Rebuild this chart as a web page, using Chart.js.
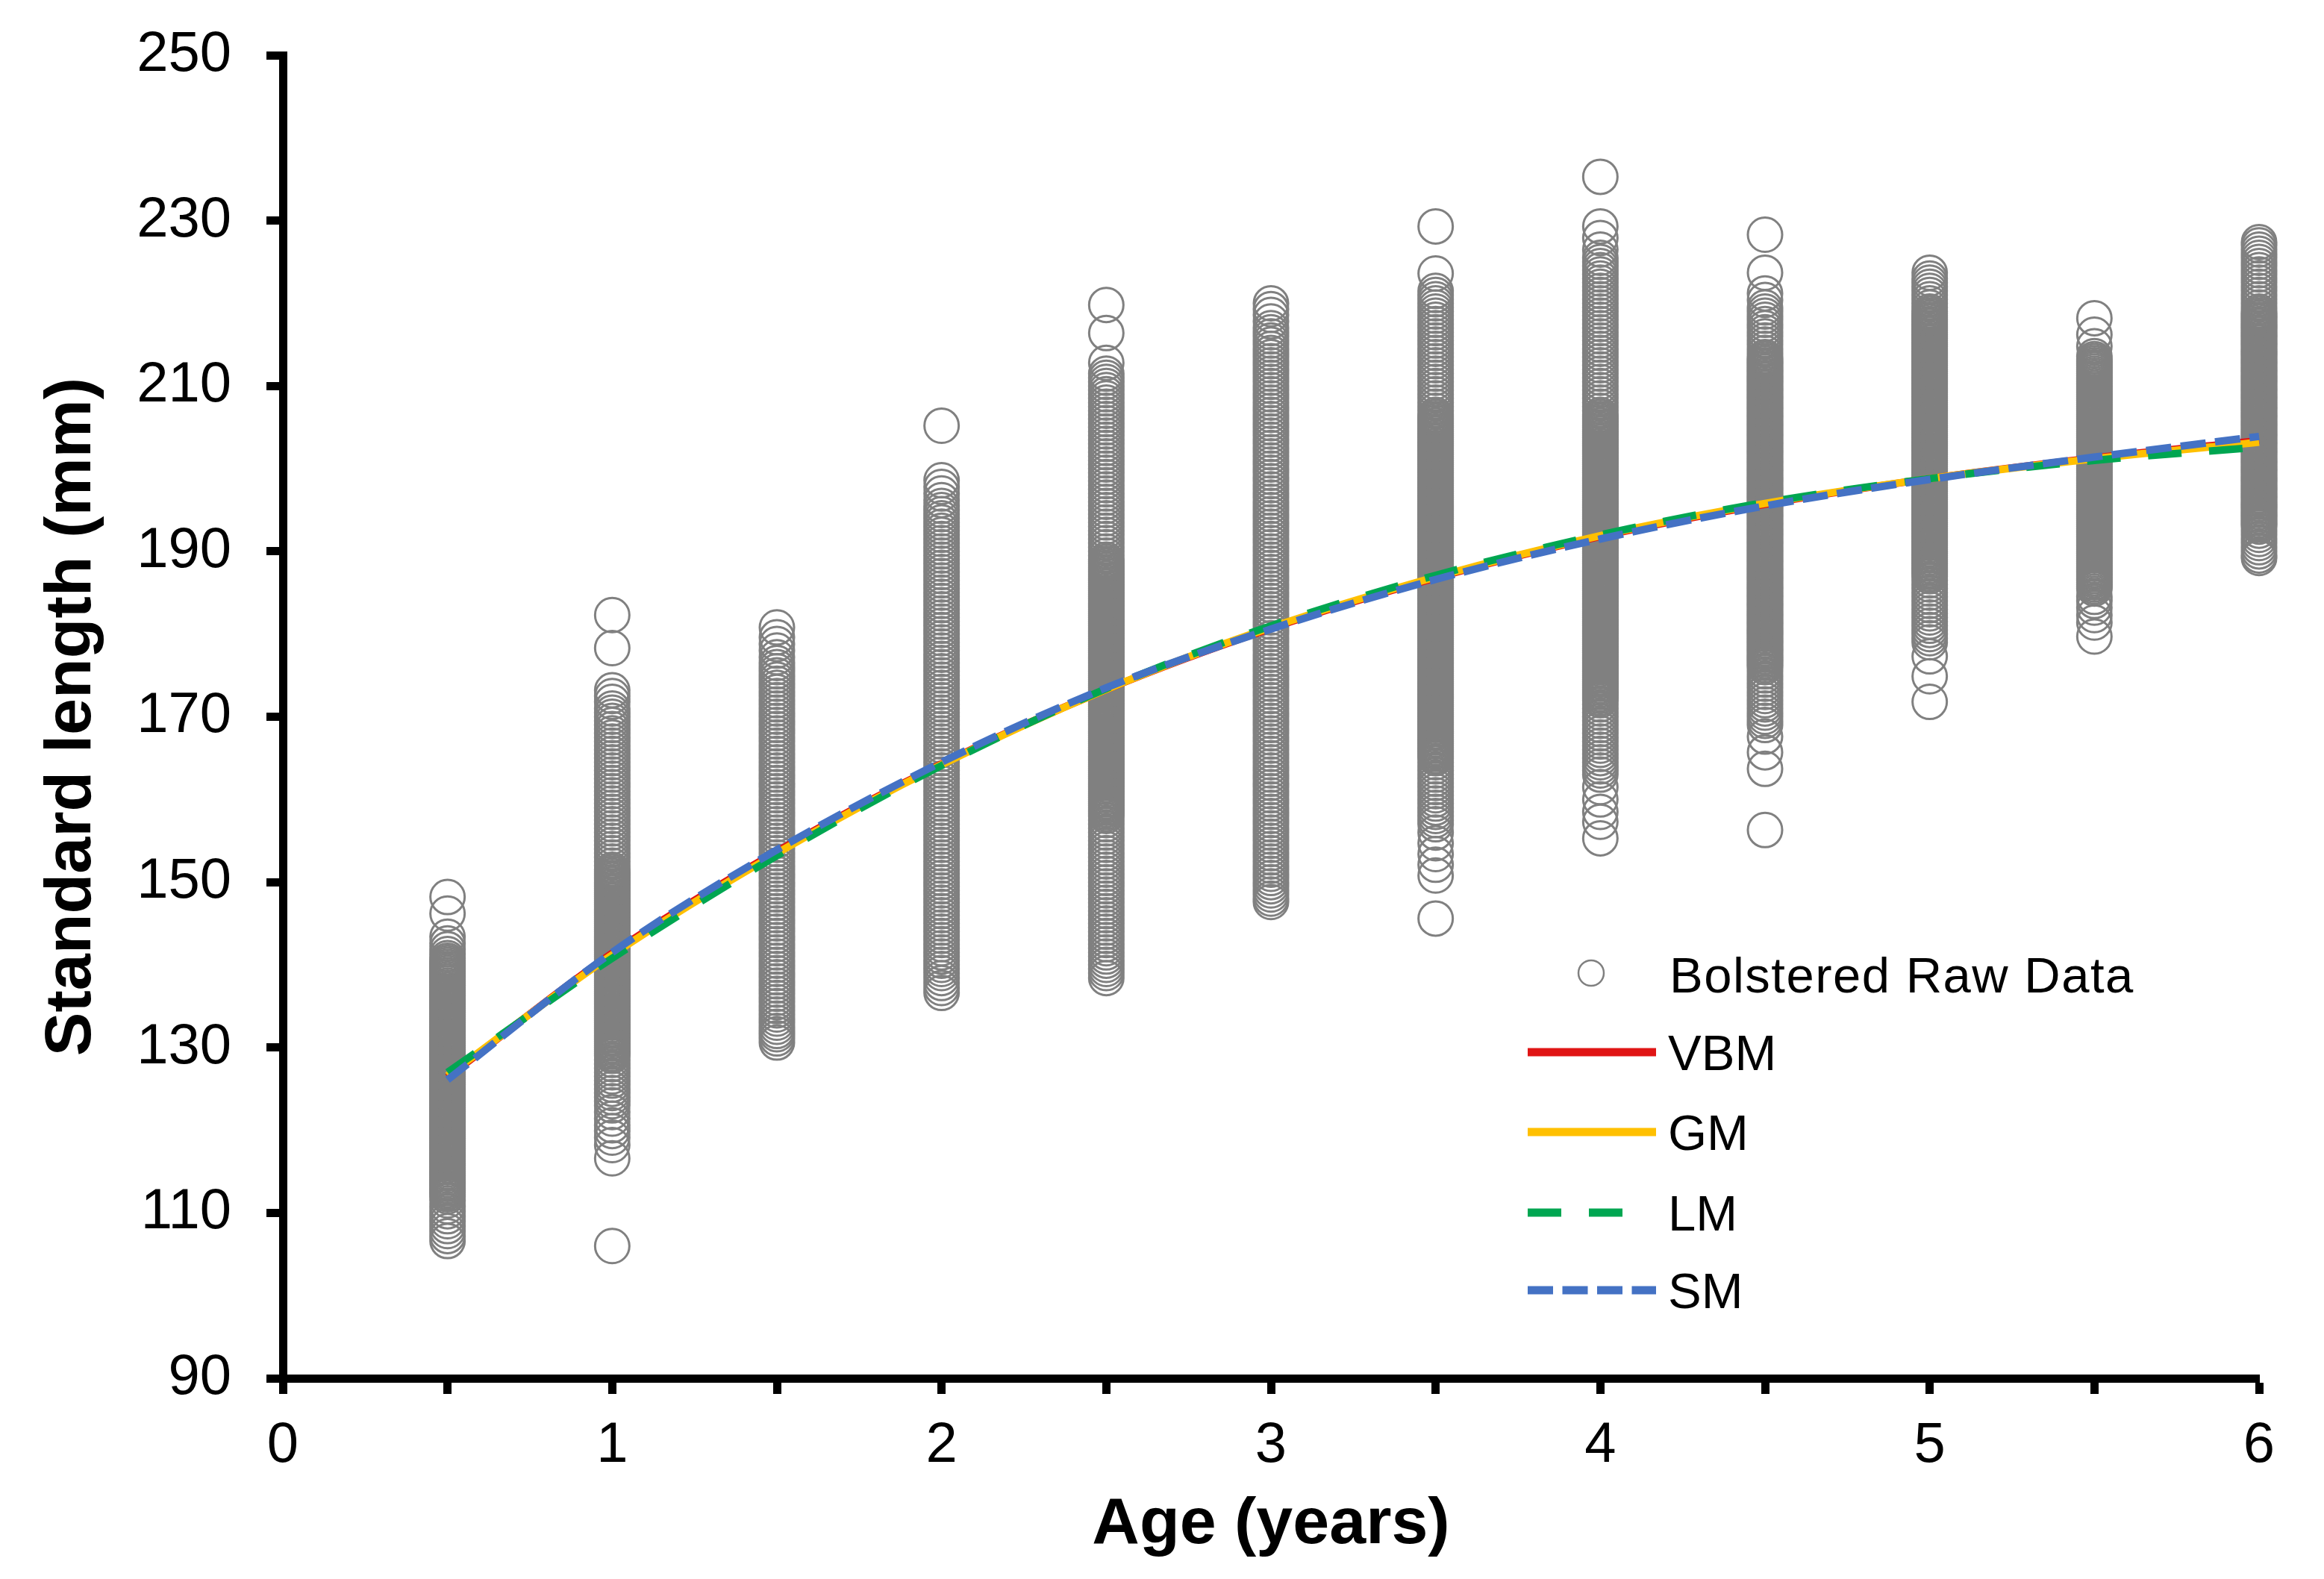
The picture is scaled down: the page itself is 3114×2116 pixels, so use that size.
<!DOCTYPE html>
<html>
<head>
<meta charset="utf-8">
<script src="https://cdn.jsdelivr.net/npm/chart.js@4.4.1/dist/chart.umd.min.js"></script>
<style>
html,body{margin:0;padding:0;background:#fff;}
canvas{display:block;}
</style>
</head>
<body>
<canvas id="c" width="3114" height="2116" style="width:3114px;height:2116px"></canvas>
<script>
// ---------- DATA ----------
const ages = [0.5, 1, 1.5, 2, 2.5, 3, 3.5, 4, 4.5, 5, 5.5, 6];

const sl05 = [148.2,146.2,143.4,142.6,141.9,141.3,140.8,140.5,140.25,140,139.75,139.5,139.25,139,138.75,138.5,138.25,138,137.75,137.5,137.25,137,136.75,136.5,136.25,136,135.75,135.5,135.25,135,134.75,134.5,134.25,134,133.75,133.5,133.25,133,132.75,132.5,132.25,132,131.75,131.5,131.25,131,130.75,130.5,130.25,130,129.75,129.5,129.25,129,128.75,128.5,128.25,128,127.75,127.5,127.25,127,126.75,126.5,126.25,126,125.75,125.5,125.25,125,124.75,124.5,124.25,124,123.75,123.5,123.25,123,122.75,122.5,122.25,122,121.75,121.5,121.25,121,120.75,120.5,120.25,120,119.75,119.5,119.25,119,118.75,118.5,118.25,118,117.75,117.5,117.25,117,116.75,116.5,116.25,116,115.75,115.5,115.25,115,114.75,114.5,114.25,114,113.75,113.5,113.25,113,112.75,112.5,112.25,112,111.5,110.8,110.2,109.6,109,108.4,107.8,107.2,106.6];
const sl10 = [182.3,178.3,173.2,172.5,171.8,171,170.5,170,169.5,169,168.5,168,167.5,167,166.5,166,165.5,165,164.5,164,163.5,163,162.5,162,161.5,161,160.5,160,159.5,159,158.5,158,157.5,157,156.5,156,155.5,155,154.5,154,153.5,153,152.5,152,151.5,151.25,151,150.75,150.5,150.25,150,149.75,149.5,149.25,149,148.75,148.5,148.25,148,147.75,147.5,147.25,147,146.75,146.5,146.25,146,145.75,145.5,145.25,145,144.75,144.5,144.25,144,143.75,143.5,143.25,143,142.75,142.5,142.25,142,141.75,141.5,141.25,141,140.75,140.5,140.25,140,139.75,139.5,139.25,139,138.75,138.5,138.25,138,137.75,137.5,137.25,137,136.75,136.5,136.25,136,135.75,135.5,135.25,135,134.75,134.5,134.25,134,133.75,133.5,133.25,133,132.75,132.5,132.25,132,131.75,131.5,131.25,131,130.75,130.5,130.25,130,129.75,129.5,129.25,129,128.5,128,127.5,127,126.5,126,125.5,125,124.5,124,123.5,123,122.2,121.4,120.6,119.9,119.1,118.2,116.6,106];
const sl15 = [180.8,179.6,178.8,178,177.2,176.5,176,175.5,175,174.5,174,173.5,173,172.5,172,171.5,171,170.5,170,169.5,169,168.5,168,167.5,167,166.5,166,165.5,165,164.5,164,163.5,163,162.5,162,161.5,161,160.5,160,159.5,159,158.5,158,157.5,157,156.5,156,155.5,155,154.5,154,153.5,153,152.5,152,151.5,151,150.5,150,149.5,149,148.5,148,147.5,147,146.5,146,145.5,145,144.5,144,143.5,143,142.5,142,141.5,141,140.5,140,139.5,139,138.5,138,137.5,137,136.5,136,135.5,135,134.5,134,133.5,133,132.5,132,131.6,131.1,130.6];
const sl20 = [205.2,198.6,197.8,197,196.2,195.5,195,194.5,194,193.5,193,192.5,192,191.5,191,190.5,190,189.5,189,188.5,188,187.5,187,186.5,186,185.5,185,184.5,184,183.5,183,182.5,182,181.5,181,180.5,180,179.5,179,178.5,178,177.5,177,176.5,176,175.5,175,174.5,174,173.5,173,172.5,172,171.5,171,170.5,170,169.5,169,168.5,168,167.5,167,166.5,166,165.5,165,164.5,164,163.5,163,162.5,162,161.5,161,160.5,160,159.5,159,158.5,158,157.5,157,156.5,156,155.5,155,154.5,154,153.5,153,152.5,152,151.5,151,150.5,150,149.5,149,148.5,148,147.5,147,146.5,146,145.5,145,144.5,144,143.5,143,142.5,142,141.5,141,140.5,140,139.5,139,138.4,137.8,137.2,136.6];
const sl25 = [219.8,216.4,212.8,211.5,211,210.5,210,209.5,209,208.5,208,207.5,207,206.5,206,205.5,205,204.5,204,203.5,203,202.5,202,201.5,201,200.5,200,199.5,199,198.5,198,197.5,197,196.5,196,195.5,195,194.5,194,193.5,193,192.5,192,191.5,191,190.5,190,189.5,189,188.75,188.5,188.25,188,187.75,187.5,187.25,187,186.75,186.5,186.25,186,185.75,185.5,185.25,185,184.75,184.5,184.25,184,183.75,183.5,183.25,183,182.75,182.5,182.25,182,181.75,181.5,181.25,181,180.75,180.5,180.25,180,179.75,179.5,179.25,179,178.75,178.5,178.25,178,177.75,177.5,177.25,177,176.75,176.5,176.25,176,175.75,175.5,175.25,175,174.75,174.5,174.25,174,173.75,173.5,173.25,173,172.75,172.5,172.25,172,171.75,171.5,171.25,171,170.75,170.5,170.25,170,169.75,169.5,169.25,169,168.75,168.5,168.25,168,167.75,167.5,167.25,167,166.75,166.5,166.25,166,165.75,165.5,165.25,165,164.75,164.5,164.25,164,163.75,163.5,163.25,163,162.75,162.5,162.25,162,161.75,161.5,161.25,161,160.75,160.5,160.25,160,159.75,159.5,159.25,159,158.75,158.5,158.25,158,157.5,157,156.5,156,155.5,155,154.5,154,153.5,153,152.5,152,151.5,151,150.5,150,149.5,149,148.5,148,147.5,147,146.5,146,145.5,145,144.5,144,143.5,143,142.5,142,141.5,141,140.5,140,139.5,139,138.4];
const sl30 = [220,219.3,218.6,217.8,217,216.5,216,215.5,215,214.5,214,213.5,213,212.5,212,211.5,211,210.5,210,209.5,209,208.5,208,207.5,207,206.5,206,205.5,205,204.5,204,203.5,203,202.5,202,201.5,201,200.5,200,199.5,199,198.5,198,197.5,197,196.5,196,195.5,195,194.5,194,193.5,193,192.5,192,191.5,191,190.5,190,189.5,189,188.5,188,187.5,187,186.5,186,185.5,185,184.5,184,183.5,183,182.5,182,181.5,181,180.5,180,179.5,179,178.5,178,177.5,177,176.5,176,175.5,175,174.5,174,173.5,173,172.5,172,171.5,171,170.5,170,169.5,169,168.5,168,167.5,167,166.5,166,165.5,165,164.5,164,163.5,163,162.5,162,161.5,161,160.5,160,159.5,159,158.5,158,157.5,157,156.5,156,155.5,155,154.5,154,153.5,153,152.5,152,151.5,151,150.5,150,149.5,149,148.5,148,147.6];
const sl35 = [229.3,223.6,221.5,221,220.5,220,219.5,219,218.5,218,217.5,217,216.5,216,215.5,215,214.5,214,213.5,213,212.5,212,211.5,211,210.5,210,209.5,209,208.5,208,207.5,207,206.5,206.25,206,205.75,205.5,205.25,205,204.75,204.5,204.25,204,203.75,203.5,203.25,203,202.75,202.5,202.25,202,201.75,201.5,201.25,201,200.75,200.5,200.25,200,199.75,199.5,199.25,199,198.75,198.5,198.25,198,197.75,197.5,197.25,197,196.75,196.5,196.25,196,195.75,195.5,195.25,195,194.75,194.5,194.25,194,193.75,193.5,193.25,193,192.75,192.5,192.25,192,191.75,191.5,191.25,191,190.75,190.5,190.25,190,189.75,189.5,189.25,189,188.75,188.5,188.25,188,187.75,187.5,187.25,187,186.75,186.5,186.25,186,185.75,185.5,185.25,185,184.75,184.5,184.25,184,183.75,183.5,183.25,183,182.75,182.5,182.25,182,181.75,181.5,181.25,181,180.75,180.5,180.25,180,179.75,179.5,179.25,179,178.75,178.5,178.25,178,177.75,177.5,177.25,177,176.75,176.5,176.25,176,175.75,175.5,175.25,175,174.75,174.5,174.25,174,173.75,173.5,173.25,173,172.75,172.5,172.25,172,171.75,171.5,171.25,171,170.75,170.5,170.25,170,169.75,169.5,169.25,169,168.75,168.5,168.25,168,167.75,167.5,167.25,167,166.75,166.5,166.25,166,165.75,165.5,165.25,165,164.5,164,163.5,163,162.5,162,161.5,161,160.5,160,159.5,159,158.5,158,157.5,157,156,154.7,153.4,152.1,150.8,145.6];
const sl40 = [235.3,229.3,227.9,226.5,225.5,225,224.5,224,223.5,223,222.5,222,221.5,221,220.5,220,219.5,219,218.5,218,217.5,217,216.5,216,215.5,215,214.5,214,213.5,213,212.5,212,211.5,211,210.5,210,209.5,209,208.5,208,207.5,207,206.5,206.25,206,205.75,205.5,205.25,205,204.75,204.5,204.25,204,203.75,203.5,203.25,203,202.75,202.5,202.25,202,201.75,201.5,201.25,201,200.75,200.5,200.25,200,199.75,199.5,199.25,199,198.75,198.5,198.25,198,197.75,197.5,197.25,197,196.75,196.5,196.25,196,195.75,195.5,195.25,195,194.75,194.5,194.25,194,193.75,193.5,193.25,193,192.75,192.5,192.25,192,191.75,191.5,191.25,191,190.75,190.5,190.25,190,189.75,189.5,189.25,189,188.75,188.5,188.25,188,187.75,187.5,187.25,187,186.75,186.5,186.25,186,185.75,185.5,185.25,185,184.75,184.5,184.25,184,183.75,183.5,183.25,183,182.75,182.5,182.25,182,181.75,181.5,181.25,181,180.75,180.5,180.25,180,179.75,179.5,179.25,179,178.75,178.5,178.25,178,177.75,177.5,177.25,177,176.75,176.5,176.25,176,175.75,175.5,175.25,175,174.75,174.5,174.25,174,173.75,173.5,173.25,173,172.75,172.5,172.25,172,171.5,171,170.5,170,169.5,169,168.5,168,167.5,167,166.5,166,165.5,165,164.5,164,163.5,163,161.5,160,158.5,157.3,155.3];
const sl45 = [228.3,223.7,221.2,220.4,219.5,219,218.5,218,217.5,217,216.5,216,215.5,215,214.5,214,213.5,213.25,213,212.75,212.5,212.25,212,211.75,211.5,211.25,211,210.75,210.5,210.25,210,209.75,209.5,209.25,209,208.75,208.5,208.25,208,207.75,207.5,207.25,207,206.75,206.5,206.25,206,205.75,205.5,205.25,205,204.75,204.5,204.25,204,203.75,203.5,203.25,203,202.75,202.5,202.25,202,201.75,201.5,201.25,201,200.75,200.5,200.25,200,199.75,199.5,199.25,199,198.75,198.5,198.25,198,197.75,197.5,197.25,197,196.75,196.5,196.25,196,195.75,195.5,195.25,195,194.75,194.5,194.25,194,193.75,193.5,193.25,193,192.75,192.5,192.25,192,191.75,191.5,191.25,191,190.75,190.5,190.25,190,189.75,189.5,189.25,189,188.75,188.5,188.25,188,187.75,187.5,187.25,187,186.75,186.5,186.25,186,185.75,185.5,185.25,185,184.75,184.5,184.25,184,183.75,183.5,183.25,183,182.75,182.5,182.25,182,181.75,181.5,181.25,181,180.75,180.5,180.25,180,179.75,179.5,179.25,179,178.75,178.5,178.25,178,177.75,177.5,177.25,177,176.75,176.5,176.25,176,175.5,175,174.5,174,173.5,173,172.5,172,171.5,171,170.5,170,169.5,169,167.6,165.7,163.7,156.3];
const sl50 = [223.7,223,222.5,222,221.5,221,220.5,220,219.5,219,218.75,218.5,218.25,218,217.75,217.5,217.25,217,216.75,216.5,216.25,216,215.75,215.5,215.25,215,214.75,214.5,214.25,214,213.75,213.5,213.25,213,212.75,212.5,212.25,212,211.75,211.5,211.25,211,210.75,210.5,210.25,210,209.75,209.5,209.25,209,208.75,208.5,208.25,208,207.75,207.5,207.25,207,206.75,206.5,206.25,206,205.75,205.5,205.25,205,204.75,204.5,204.25,204,203.75,203.5,203.25,203,202.75,202.5,202.25,202,201.75,201.5,201.25,201,200.75,200.5,200.25,200,199.75,199.5,199.25,199,198.75,198.5,198.25,198,197.75,197.5,197.25,197,196.75,196.5,196.25,196,195.75,195.5,195.25,195,194.75,194.5,194.25,194,193.75,193.5,193.25,193,192.75,192.5,192.25,192,191.75,191.5,191.25,191,190.75,190.5,190.25,190,189.75,189.5,189.25,189,188.75,188.5,188.25,188,187.75,187.5,187.25,187,186.5,186,185.5,185,184.5,184,183.5,183,182.5,182,181.5,181,180.5,180,179.5,179,177.3,174.9,171.8];
const sl55 = [218.2,216.2,214.8,213.6,213.25,213,212.75,212.5,212.25,212,211.75,211.5,211.25,211,210.75,210.5,210.25,210,209.75,209.5,209.25,209,208.75,208.5,208.25,208,207.75,207.5,207.25,207,206.75,206.5,206.25,206,205.75,205.5,205.25,205,204.75,204.5,204.25,204,203.75,203.5,203.25,203,202.75,202.5,202.25,202,201.75,201.5,201.25,201,200.75,200.5,200.25,200,199.75,199.5,199.25,199,198.75,198.5,198.25,198,197.75,197.5,197.25,197,196.75,196.5,196.25,196,195.75,195.5,195.25,195,194.75,194.5,194.25,194,193.75,193.5,193.25,193,192.75,192.5,192.25,192,191.75,191.5,191.25,191,190.75,190.5,190.25,190,189.75,189.5,189.25,189,188.75,188.5,188.25,188,187.75,187.5,187.25,187,186.75,186.5,186.25,186,185.75,185.5,184.5,184,183.2,182.3,181.4,179.7];
const sl60 = [227.4,227,226.5,226,225.5,225,224.5,224,223.5,223,222.5,222,221.5,221,220.5,220,219.5,219,218.75,218.5,218.25,218,217.75,217.5,217.25,217,216.75,216.5,216.25,216,215.75,215.5,215.25,215,214.75,214.5,214.25,214,213.75,213.5,213.25,213,212.75,212.5,212.25,212,211.75,211.5,211.25,211,210.75,210.5,210.25,210,209.75,209.5,209.25,209,208.75,208.5,208.25,208,207.75,207.5,207.25,207,206.75,206.5,206.25,206,205.75,205.5,205.25,205,204.75,204.5,204.25,204,203.75,203.5,203.25,203,202.75,202.5,202.25,202,201.75,201.5,201.25,201,200.75,200.5,200.25,200,199.75,199.5,199.25,199,198.75,198.5,198.25,198,197.75,197.5,197.25,197,196.75,196.5,196.25,196,195.75,195.5,195.25,195,194.75,194.5,194.25,194,193.75,193.5,193.25,193,192.5,192,191.5,191,190.5,190,189.5,189.2];

const modelAges = [0.5, 1, 1.5, 2, 2.5, 3, 3.5, 4, 4.5, 5, 5.5, 6];
const vbm = [126.4, 141.4, 153.7, 164.3, 173.3, 180.7, 186.8, 191.8, 195.7, 198.8, 201.3, 203.4];
const gm  = [126.6, 141.2, 153.5, 164.2, 173.3, 180.8, 186.9, 191.9, 195.8, 198.8, 201.2, 203.2];
const lm  = [127.0, 140.8, 153.2, 164.1, 173.4, 181.0, 187.1, 192.0, 195.9, 198.8, 201.0, 202.6];
const sm  = [126.1, 141.5, 153.9, 164.5, 173.5, 180.6, 186.6, 191.5, 195.5, 198.7, 201.4, 203.9];

const xTickValues = [0, 0.5, 1, 1.5, 2, 2.5, 3, 3.5, 4, 4.5, 5, 5.5, 6];
const xTickLabels = ['0', '', '1', '', '2', '', '3', '', '4', '', '5', '', '6'];
const yTickValues = [90, 110, 130, 150, 170, 190, 210, 230, 250];
const yTickLabels = ['90', '110', '130', '150', '170', '190', '210', '230', '250'];

const seriesNames = ['Bolstered Raw Data', 'VBM', 'GM', 'LM', 'SM'];

// ---------- BUILD ----------
const columns = [sl05, sl10, sl15, sl20, sl25, sl30, sl35, sl40, sl45, sl50, sl55, sl60];
const rawPoints = [];
ages.forEach((a, i) => columns[i].forEach(v => rawPoints.push({x: a, y: v})));
const curve = arr => modelAges.map((a, i) => ({x: a, y: arr[i]}));

const FONT = "'Liberation Sans', Arial, Helvetica, sans-serif";
const GRAY = '#808080';
const COLORS = {VBM: '#E01515', GM: '#FFC000', LM: '#00A651', SM: '#4472C4'};
const DASH = {VBM: [], GM: [], LM: [45, 37], SM: [34, 12.5]};
const LW = 10;

const legendPlugin = {
  id: 'customLegend',
  afterDatasetsDraw(chart) {
    const ctx = chart.ctx;
    const a = chart.chartArea;
    const x0 = a.left + 1668;
    const x1 = a.left + 1840;
    const tx = a.left + 1856;
    ctx.save();
    ctx.font = "67px " + FONT;
    ctx.fillStyle = '#000';
    ctx.textBaseline = 'alphabetic';
    ctx.textAlign = 'left';
    ctx.beginPath();
    ctx.strokeStyle = GRAY;
    ctx.lineWidth = 2.5;
    ctx.arc(a.left + 1753, a.top + 1230, 17, 0, Math.PI * 2);
    ctx.stroke();
    ctx.letterSpacing = '1.5px';
    ctx.fillText(seriesNames[0], tx + 2, a.top + 1256);
    ctx.letterSpacing = '0px';
    const rows = [
      {name: 'VBM', y: a.top + 1336, end: x1},
      {name: 'GM',  y: a.top + 1443, end: x1},
      {name: 'LM',  y: a.top + 1551, end: a.left + 1796},
      {name: 'SM',  y: a.top + 1655, end: x1}
    ];
    rows.forEach(r => {
      ctx.beginPath();
      ctx.strokeStyle = COLORS[r.name];
      ctx.lineWidth = 11;
      ctx.lineCap = 'butt';
      ctx.setLineDash(DASH[r.name]);
      ctx.moveTo(x0, r.y);
      ctx.lineTo(r.end, r.y);
      ctx.stroke();
      ctx.setLineDash([]);
      ctx.fillText(r.name, tx, r.y + 24);
    });
    ctx.restore();
  }
};

const lineDs = (name, arr, order) => ({
  label: name,
  data: curve(arr),
  showLine: true,
  borderColor: COLORS[name],
  backgroundColor: COLORS[name],
  borderWidth: LW,
  borderDash: DASH[name],
  borderCapStyle: 'butt',
  pointRadius: 0,
  pointHoverRadius: 0,
  cubicInterpolationMode: 'monotone',
  fill: false,
  clip: false,
  order: order
});

new Chart(document.getElementById('c'), {
  type: 'scatter',
  data: {
    datasets: [
      lineDs('SM', sm, 1),
      lineDs('LM', lm, 2),
      lineDs('GM', gm, 3),
      lineDs('VBM', vbm, 4),
      {
        label: seriesNames[0],
        data: rawPoints,
        showLine: false,
        pointStyle: 'circle',
        pointRadius: 23,
        pointHoverRadius: 23,
        borderWidth: 3,
        pointBorderWidth: 3,
        borderColor: GRAY,
        pointBorderColor: GRAY,
        backgroundColor: 'rgba(0,0,0,0)',
        pointBackgroundColor: 'rgba(0,0,0,0)',
        clip: false,
        order: 5
      }
    ]
  },
  options: {
    responsive: false,
    devicePixelRatio: 1,
    animation: false,
    events: [],
    layout: {padding: {left: 0, right: 87, top: 74, bottom: 0}},
    plugins: {legend: {display: false}, tooltip: {enabled: false}, title: {display: false}},
    scales: {
      x: {
        type: 'linear', position: 'bottom', min: 0, max: 6,
        afterBuildTicks: s => { s.ticks = xTickValues.map(v => ({value: v})); },
        afterFit: s => { s.height = 269; s.paddingLeft = 0; s.paddingRight = 0; },
        ticks: {
          autoSkip: false, maxRotation: 0, minRotation: 0, padding: 24, color: '#000',
          font: {family: FONT, size: 76},
          callback: (v) => { const i = xTickValues.indexOf(v); return i >= 0 ? xTickLabels[i] : ''; }
        },
        grid: {display: true, drawOnChartArea: false, drawTicks: true, tickLength: 21, tickWidth: 11, tickColor: '#000'},
        border: {display: true, color: '#000', width: 11},
        title: {display: true, text: 'Age (years)', color: '#000', font: {family: FONT, size: 88, weight: 'bold'}, padding: {top: 0, bottom: 19}}
      },
      y: {
        type: 'linear', position: 'left', min: 90, max: 250,
        afterBuildTicks: s => { s.ticks = yTickValues.map(v => ({value: v})); },
        afterFit: s => { s.width = 379; s.paddingTop = 0; s.paddingBottom = 0; },
        ticks: {
          padding: 47, color: '#000',
          font: {family: FONT, size: 76},
          callback: (v) => { const i = yTickValues.indexOf(v); return i >= 0 ? yTickLabels[i] : ''; }
        },
        grid: {display: true, drawOnChartArea: false, drawTicks: true, tickLength: 22, tickWidth: 11, tickColor: '#000'},
        border: {display: true, color: '#000', width: 11},
        title: {display: true, text: 'Standard length (mm)', color: '#000', font: {family: FONT, size: 88, weight: 'bold'}, padding: {top: 44, bottom: 0}}
      }
    }
  },
  plugins: [legendPlugin]
});
</script>
</body>
</html>
